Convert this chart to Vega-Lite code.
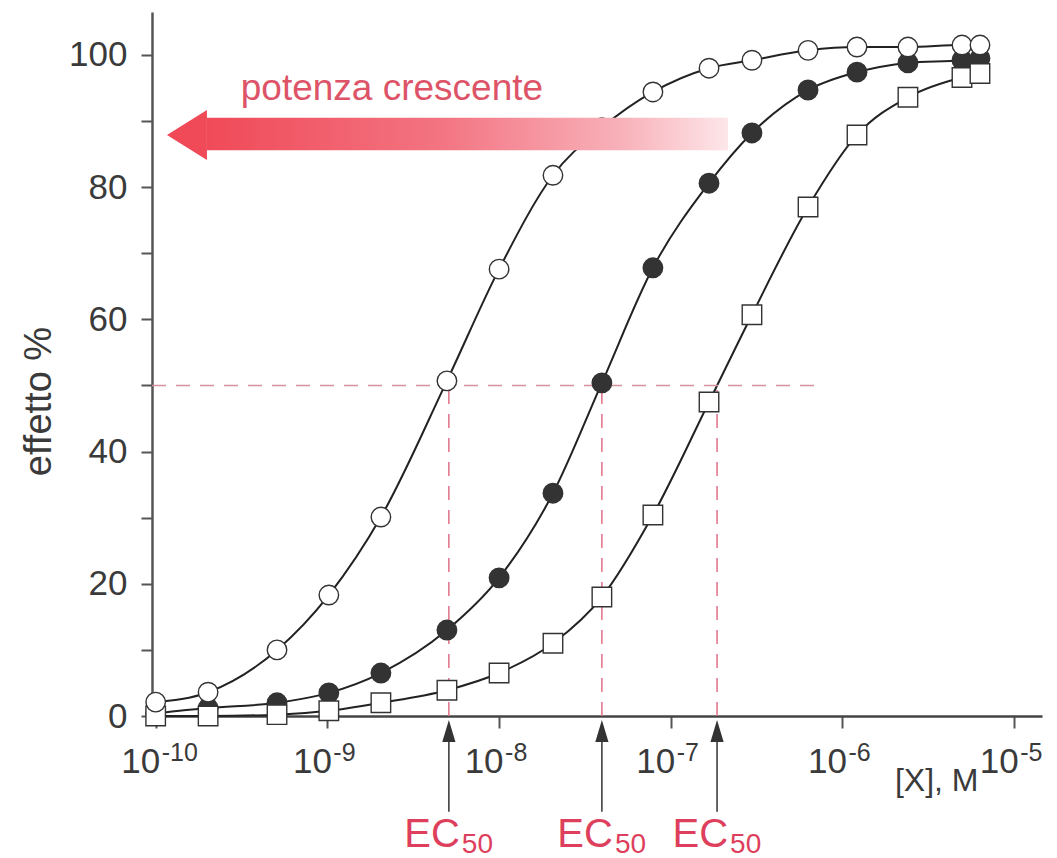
{
  "$schema": "https://vega.github.io/schema/vega-lite/v6.json",
  "width": 890,
  "height": 704,
  "autosize": "none",
  "padding": {"left": 152, "top": 12, "right": 15, "bottom": 142},
  "background": "white",
  "config": {"view": {"stroke": null}, "font": "Liberation Sans"},
  "resolve": {"axis": {"x": "independent", "y": "independent"}},
  "datasets": {
    "curves": [
      {"series": "B", "conc": 1.0e-10, "effect": 0.4},
      {"series": "B", "conc": 2.02e-10, "effect": 1.2},
      {"series": "B", "conc": 5.09e-10, "effect": 2.0},
      {"series": "B", "conc": 1.02e-9, "effect": 3.5},
      {"series": "B", "conc": 2.05e-9, "effect": 6.5},
      {"series": "B", "conc": 4.97e-9, "effect": 13.0},
      {"series": "B", "conc": 1.0e-8, "effect": 20.9},
      {"series": "B", "conc": 2.06e-8, "effect": 33.7},
      {"series": "B", "conc": 3.97e-8, "effect": 50.4},
      {"series": "B", "conc": 7.87e-8, "effect": 67.8},
      {"series": "B", "conc": 1.67e-7, "effect": 80.6},
      {"series": "B", "conc": 2.97e-7, "effect": 88.2},
      {"series": "B", "conc": 6.30e-7, "effect": 94.7},
      {"series": "B", "conc": 1.215e-6, "effect": 97.4},
      {"series": "B", "conc": 2.405e-6, "effect": 98.8},
      {"series": "B", "conc": 4.965e-6, "effect": 99.2},
      {"series": "B", "conc": 6.32e-6, "effect": 99.5},
      {"series": "C", "conc": 1.0e-10, "effect": 0},
      {"series": "C", "conc": 2.02e-10, "effect": 0},
      {"series": "C", "conc": 5.09e-10, "effect": 0.2},
      {"series": "C", "conc": 1.02e-9, "effect": 0.8},
      {"series": "C", "conc": 2.05e-9, "effect": 2.0},
      {"series": "C", "conc": 4.97e-9, "effect": 3.9},
      {"series": "C", "conc": 1.0e-8, "effect": 6.5},
      {"series": "C", "conc": 2.06e-8, "effect": 11.0},
      {"series": "C", "conc": 3.97e-8, "effect": 18.0},
      {"series": "C", "conc": 7.87e-8, "effect": 30.4},
      {"series": "C", "conc": 1.67e-7, "effect": 47.5},
      {"series": "C", "conc": 2.97e-7, "effect": 60.7},
      {"series": "C", "conc": 6.30e-7, "effect": 77.0},
      {"series": "C", "conc": 1.215e-6, "effect": 87.9},
      {"series": "C", "conc": 2.405e-6, "effect": 93.6},
      {"series": "C", "conc": 4.965e-6, "effect": 96.6},
      {"series": "C", "conc": 6.32e-6, "effect": 97.2},
      {"series": "A", "conc": 1.0e-10, "effect": 2.1},
      {"series": "A", "conc": 2.02e-10, "effect": 3.6},
      {"series": "A", "conc": 5.09e-10, "effect": 10.0},
      {"series": "A", "conc": 1.02e-9, "effect": 18.3},
      {"series": "A", "conc": 2.05e-9, "effect": 30.1},
      {"series": "A", "conc": 4.97e-9, "effect": 50.7},
      {"series": "A", "conc": 1.0e-8, "effect": 67.6},
      {"series": "A", "conc": 2.06e-8, "effect": 81.8},
      {"series": "A", "conc": 3.97e-8, "effect": 89.0},
      {"series": "A", "conc": 7.87e-8, "effect": 94.4},
      {"series": "A", "conc": 1.67e-7, "effect": 98.0},
      {"series": "A", "conc": 2.97e-7, "effect": 99.2},
      {"series": "A", "conc": 6.30e-7, "effect": 100.7},
      {"series": "A", "conc": 1.215e-6, "effect": 101.2},
      {"series": "A", "conc": 2.405e-6, "effect": 101.2},
      {"series": "A", "conc": 4.965e-6, "effect": 101.5},
      {"series": "A", "conc": 6.32e-6, "effect": 101.5}
    ],
    "ec50": [
      {"ec": 5.1e-9},
      {"ec": 3.97e-8},
      {"ec": 1.86e-7}
    ],
    "exps": [
      {"t": 1e-10, "e": "-10"},
      {"t": 1e-9, "e": "-9"},
      {"t": 1e-8, "e": "-8"},
      {"t": 1e-7, "e": "-7"},
      {"t": 1e-6, "e": "-6"},
      {"t": 1e-5, "e": "-5"}
    ],
    "one": [{}]
  },
  "layer": [
    {
      "data": {"name": "curves"},
      "mark": {"type": "line", "color": "#222", "strokeWidth": 2, "interpolate": "monotone"},
      "encoding": {
        "x": {
          "field": "conc", "type": "quantitative",
          "scale": {"type": "log", "domain": [9.52e-11, 1.452e-5], "nice": false},
          "axis": {
            "values": [1e-10, 1e-9, 1e-8, 1e-7, 1e-6, 1e-5],
            "labelExpr": "'10'",
            "labelAlign": "right",
            "labelOffset": 4,
            "labelBaseline": "top",
            "labelPadding": 16,
            "labelFontSize": 35,
            "labelColor": "#3a3a3a",
            "labelFont": "Liberation Sans",
            "labelFlush": false,
            "labelOverlap": false,
            "tickSize": 12,
            "tickWidth": 2,
            "tickColor": "#555",
            "domainColor": "#444",
            "domainWidth": 2.5,
            "grid": false,
            "title": "[X], M",
            "titleFont": "Liberation Sans",
            "titleFontSize": 32,
            "titleFontWeight": "normal",
            "titleColor": "#3a3a3a",
            "titleAlign": "right",
            "titleX": 826,
            "titleY": 74,
            "titleBaseline": "alphabetic"
          }
        },
        "y": {
          "field": "effect", "type": "quantitative",
          "scale": {"domain": [0, 106.5], "nice": false, "zero": false},
          "axis": {
            "values": [0, 10, 20, 30, 40, 50, 60, 70, 80, 90, 100],
            "labelExpr": "datum.value % 20 === 0 ? datum.label : ''",
            "labelFontSize": 35,
            "labelColor": "#3a3a3a",
            "labelFont": "Liberation Sans",
            "labelPadding": 14,
            "labelFlush": false,
            "labelOverlap": false,
            "tickSize": 11,
            "tickWidth": 2,
            "tickColor": "#555",
            "domainColor": "#555",
            "domainWidth": 2.5,
            "grid": false,
            "title": "effetto %",
            "titleFont": "Liberation Sans",
            "titleFontSize": 38,
            "titleFontWeight": "normal",
            "titleColor": "#3a3a3a",
            "titleAngle": -90,
            "titleAlign": "center",
            "titleX": -102,
            "titleY": 389,
            "titleBaseline": "alphabetic"
          }
        },
        "detail": {"field": "series"}
      }
    },
    {
      "data": {"name": "one"},
      "mark": {"type": "rule", "color": "#d4929c", "strokeWidth": 1.5, "strokeDash": [14, 10]},
      "encoding": {
        "x": {"datum": 9.52e-11, "type": "quantitative", "scale": {"type": "log", "domain": [9.52e-11, 1.452e-5], "nice": false}, "axis": null},
        "x2": {"datum": 7.6e-7},
        "y": {"datum": 50, "type": "quantitative", "scale": {"domain": [0, 106.5], "nice": false, "zero": false}, "axis": null}
      }
    },
    {
      "data": {"name": "ec50"},
      "mark": {"type": "rule", "color": "#e07087", "strokeWidth": 1.5, "strokeDash": [14, 10]},
      "encoding": {
        "x": {"field": "ec", "type": "quantitative", "scale": {"type": "log", "domain": [9.52e-11, 1.452e-5], "nice": false}, "axis": null},
        "y": {"datum": 0, "type": "quantitative", "scale": {"domain": [0, 106.5], "nice": false, "zero": false}, "axis": null},
        "y2": {"datum": 50}
      }
    },
    {
      "data": {"name": "curves"},
      "mark": {"type": "point", "filled": true, "stroke": "#333", "strokeWidth": 1.4, "opacity": 1, "size": 380},
      "encoding": {
        "x": {"field": "conc", "type": "quantitative", "scale": {"type": "log", "domain": [9.52e-11, 1.452e-5], "nice": false}, "axis": null},
        "y": {"field": "effect", "type": "quantitative", "scale": {"domain": [0, 106.5], "nice": false, "zero": false}, "axis": null},
        "shape": {"field": "series", "type": "nominal", "scale": {"domain": ["A", "B", "C"], "range": ["circle", "circle", "square"]}, "legend": null},
        "fill": {"field": "series", "type": "nominal", "scale": {"domain": ["A", "B", "C"], "range": ["#ffffff", "#333333", "#ffffff"]}, "legend": null}
      }
    },
    {
      "data": {"name": "one"},
      "mark": {
        "type": "rect",
        "fill": {"gradient": "linear", "x1": 0, "x2": 1, "y1": 0, "y2": 0, "stops": [
          {"offset": 0, "color": "#f04a58"},
          {"offset": 0.45, "color": "#f37482"},
          {"offset": 0.8, "color": "#f8b2ba"},
          {"offset": 1, "color": "#fde6e9"}
        ]},
        "stroke": null
      },
      "encoding": {
        "x": {"datum": 1.99e-10, "type": "quantitative", "scale": {"type": "log", "domain": [9.52e-11, 1.452e-5], "nice": false}, "axis": null},
        "x2": {"datum": 2.153e-7},
        "y": {"datum": 85.6, "type": "quantitative", "scale": {"domain": [0, 106.5], "nice": false, "zero": false}, "axis": null},
        "y2": {"datum": 90.5}
      }
    },
    {
      "data": {"name": "one"},
      "mark": {"type": "point", "shape": "M-0.8,0L0.8,-1L0.8,1Z", "size": 2500, "filled": true, "fill": "#f04a58", "stroke": null, "opacity": 1},
      "encoding": {
        "x": {"datum": 1.521e-10, "type": "quantitative", "scale": {"type": "log", "domain": [9.52e-11, 1.452e-5], "nice": false}, "axis": null},
        "y": {"datum": 87.9, "type": "quantitative", "scale": {"domain": [0, 106.5], "nice": false, "zero": false}, "axis": null}
      }
    },
    {
      "data": {"name": "one"},
      "mark": {"type": "text", "text": "potenza crescente", "font": "Liberation Sans", "fontSize": 37, "color": "#dd5468", "align": "center", "baseline": "alphabetic"},
      "encoding": {
        "x": {"datum": 2.377e-9, "type": "quantitative", "scale": {"type": "log", "domain": [9.52e-11, 1.452e-5], "nice": false}, "axis": null},
        "y": {"datum": 93.2, "type": "quantitative", "scale": {"domain": [0, 106.5], "nice": false, "zero": false}, "axis": null}
      }
    },
    {
      "data": {"name": "exps"},
      "mark": {"type": "text", "font": "Liberation Sans", "fontSize": 25, "color": "#3a3a3a", "align": "left", "baseline": "top", "dx": 6},
      "encoding": {
        "x": {"field": "t", "type": "quantitative", "scale": {"type": "log", "domain": [9.52e-11, 1.452e-5], "nice": false}, "axis": null},
        "y": {"datum": -3.8, "type": "quantitative", "scale": {"domain": [0, 106.5], "nice": false, "zero": false}, "axis": null},
        "text": {"field": "e"}
      }
    },
    {
      "data": {"name": "ec50"},
      "mark": {"type": "rule", "color": "#333", "strokeWidth": 1.5},
      "encoding": {
        "x": {"field": "ec", "type": "quantitative", "scale": {"type": "log", "domain": [9.52e-11, 1.452e-5], "nice": false}, "axis": null},
        "y": {"datum": -14.5, "type": "quantitative", "scale": {"domain": [0, 106.5], "nice": false, "zero": false}, "axis": null},
        "y2": {"datum": -3.0}
      }
    },
    {
      "data": {"name": "ec50"},
      "mark": {"type": "point", "shape": "M0,-1L0.6,1L-0.6,1Z", "size": 484, "filled": true, "fill": "#333", "stroke": null, "opacity": 1},
      "encoding": {
        "x": {"field": "ec", "type": "quantitative", "scale": {"type": "log", "domain": [9.52e-11, 1.452e-5], "nice": false}, "axis": null},
        "y": {"datum": -2.27, "type": "quantitative", "scale": {"domain": [0, 106.5], "nice": false, "zero": false}, "axis": null}
      }
    },
    {
      "data": {"name": "ec50"},
      "mark": {"type": "text", "text": "EC", "font": "Liberation Sans", "fontSize": 40, "color": "#dd3f5c", "align": "right", "baseline": "alphabetic", "dx": 11},
      "encoding": {
        "x": {"field": "ec", "type": "quantitative", "scale": {"type": "log", "domain": [9.52e-11, 1.452e-5], "nice": false}, "axis": null},
        "y": {"datum": -19.8, "type": "quantitative", "scale": {"domain": [0, 106.5], "nice": false, "zero": false}, "axis": null}
      }
    },
    {
      "data": {"name": "ec50"},
      "mark": {"type": "text", "text": "50", "font": "Liberation Sans", "fontSize": 28, "color": "#dd3f5c", "align": "left", "baseline": "alphabetic", "dx": 13},
      "encoding": {
        "x": {"field": "ec", "type": "quantitative", "scale": {"type": "log", "domain": [9.52e-11, 1.452e-5], "nice": false}, "axis": null},
        "y": {"datum": -20.7, "type": "quantitative", "scale": {"domain": [0, 106.5], "nice": false, "zero": false}, "axis": null}
      }
    }
  ]
}
